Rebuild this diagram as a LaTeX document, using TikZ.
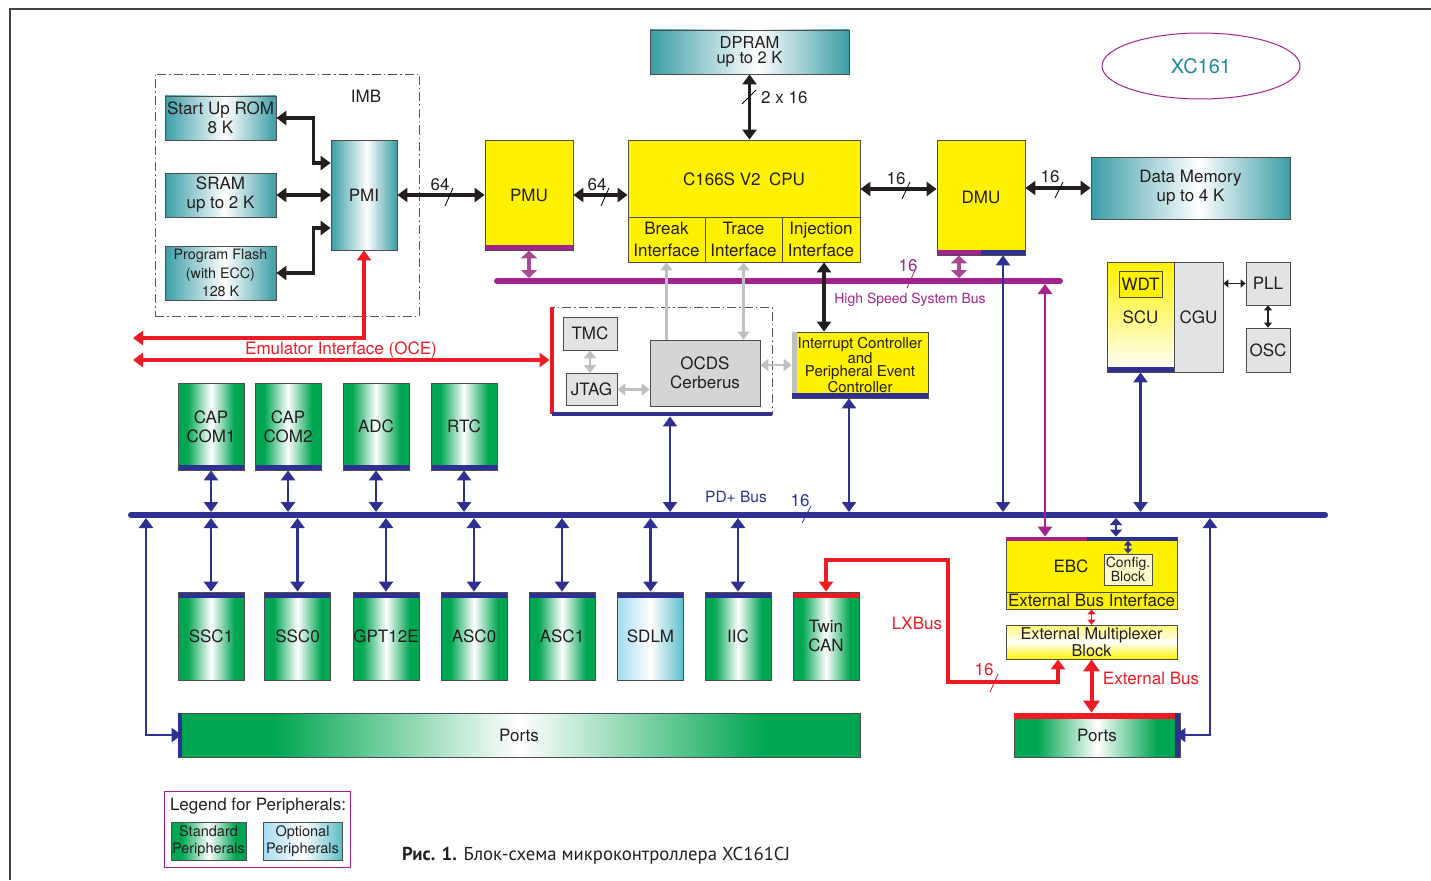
\documentclass[tikz,border=0pt]{standalone}
\usepackage{fontspec}
\setmainfont{TeX Gyre Heros}
\newfontfamily\capfont{PT Sans}
\usetikzlibrary{arrows.meta,positioning,shapes.geometric}

\definecolor{inkBlack}{RGB}{35,31,32}
\definecolor{memTeal}{RGB}{58,157,166}
\definecolor{cpuYellow}{RGB}{255,242,0}
\definecolor{perGreen}{RGB}{0,166,81}
\definecolor{busBlue}{RGB}{46,49,146}
\definecolor{hsMagenta}{RGB}{163,35,140}
\definecolor{hsLight}{RGB}{168,72,145}
\definecolor{oceRed}{RGB}{237,28,36}
\definecolor{boxGray}{RGB}{226,227,228}
\definecolor{dbgGray}{RGB}{212,213,214}
\definecolor{arrGray}{RGB}{190,192,194}
\definecolor{optBlue}{RGB}{165,218,242}
\definecolor{optTeal}{RGB}{90,190,200}
\definecolor{logoTeal}{RGB}{30,140,150}

\pgfdeclarehorizontalshading{perShade}{100bp}{color(0bp)=(perGreen); color(25bp)=(perGreen); color(32bp)=(perGreen); color(50bp)=(white); color(68bp)=(perGreen); color(75bp)=(perGreen); color(100bp)=(perGreen)}
\pgfdeclarehorizontalshading{optShade}{100bp}{color(0bp)=(optBlue); color(25bp)=(optBlue); color(50bp)=(white); color(75bp)=(optTeal); color(100bp)=(optTeal)}
\pgfdeclarehorizontalshading{memShade}{100bp}{color(0bp)=(memTeal); color(25bp)=(memTeal); color(52bp)=(white); color(75bp)=(memTeal); color(100bp)=(memTeal)}

\newcommand{\fmain}{\fontsize{17}{19}\selectfont}
\newcommand{\fdp}{\fontsize{16.5}{15}\selectfont}
\newcommand{\fint}{\fontsize{15}{13.3}\selectfont}
\newcommand{\fsmall}{\fontsize{14.3}{18.5}\selectfont}
\newcommand{\fhs}{\fontsize{14}{16}\selectfont}
\newcommand{\fcfg}{\fontsize{14}{13}\selectfont}
\newcommand{\femb}{\fontsize{16.3}{14.5}\selectfont}
\newcommand{\flogo}{\fontsize{20}{22}\selectfont}
\newcommand{\flegend}{\fontsize{14.5}{16.5}\selectfont}

\begin{document}
\begin{tikzpicture}[
    x=1pt, y=-1pt,
    every node/.style={font=\fmain, text=inkBlack, inner sep=0pt},
    box/.style={draw=inkBlack!80, line width=0.8pt, align=center},
    mem/.style={box, shade, shading=memShade},
    core/.style={box, fill=cpuYellow},
    perbox/.style={box, shade, shading=perShade, minimum width=66pt, minimum height=87pt},
    graybox/.style={box, fill=boxGray},
    botbar/.style={path picture={\fill[#1] (path picture bounding box.south west) rectangle ([yshift=5pt]path picture bounding box.south east);}},
    topbar/.style={path picture={\fill[#1] ([yshift=-6pt]path picture bounding box.north west) rectangle (path picture bounding box.north east);}},
    dashframe/.style={draw=inkBlack!75, line width=0.9pt, dash pattern=on 9pt off 3pt on 1.5pt off 3pt},
    cpubus/.style={<->, line width=3.6pt, inkBlack, >={Triangle[length=10pt,width=14pt]}},
    perbus/.style={<->, line width=2.8pt, busBlue, >={Triangle[length=10pt,width=14pt]}},
    hsbus/.style={<->, line width=4pt, hsLight, >={Triangle[length=8pt,width=16pt]}},
    hsthin/.style={<->, line width=2.8pt, hsMagenta, >={Triangle[length=10pt,width=14pt]}},
    ocebus/.style={<->, line width=3.4pt, oceRed, >={Triangle[length=10pt,width=14pt]}},
    dbgarr/.style={line width=2.4pt, arrGray, >={Triangle[length=8pt,width=12pt]}},
    tinyarr/.style={<->, line width=1.5pt, >={Triangle[length=5pt,width=8pt]}},
    slash/.style={line width=0.8pt}
]
  \useasboundingbox (0,0) rectangle (1431,880);
  \draw[inkBlack!85, line width=1.2pt] (10,880) -- (10,9) -- (1431,9);

  % memory side
  \node[dashframe, minimum width=264pt, minimum height=242pt] (imb) at (287,195) {};
  \node (imbLbl) at (366,96) {IMB};
  \node[mem, minimum width=111pt, minimum height=44pt] (rom) at (220.5,118) {Start Up ROM\\8 K};
  \node[mem, minimum width=111pt, minimum height=44pt] (sram) at (220.5,195) {SRAM\\up to 2 K};
  \node[mem, font=\fsmall, minimum width=111pt, minimum height=54pt] (flash) at (220.5,273) {Program Flash\\(with ECC)\\128 K};
  \node[mem, minimum width=66pt, minimum height=110pt] (pmi) at (364,195) {PMI};
  \node[core, botbar=hsMagenta, minimum width=88pt, minimum height=110pt] (pmu) at (529,195) {PMU};
  \node[core, minimum width=232pt, minimum height=122pt] (cpu) at (744,201) {};
  \node (cpuLbl) at (744,179) {C166S V2\enspace CPU};
  \node[core, minimum width=77pt, minimum height=45pt] (brk) at (666.5,239.5) {Break\\[3pt]Interface};
  \node[core, minimum width=77pt, minimum height=45pt] (trc) at (743.5,239.5) {Trace\\[3pt]Interface};
  \node[core, minimum width=78pt, minimum height=45pt] (inj) at (821,239.5) {Injection\\[3pt]Interface};
  \node[mem, font=\fdp, minimum width=199pt, minimum height=44pt] (dpram) at (749.5,52) {DPRAM\\up to 2 K};
  \node[core, minimum width=88pt, minimum height=115pt] (dmu) at (981,197.5) {DMU};
  \node[mem, minimum width=199pt, minimum height=62pt] (dmem) at (1190.5,188) {Data Memory\\up to 4 K};
  \node[ellipse, draw=hsMagenta, line width=1pt, minimum width=198pt, minimum height=66pt,
    text=logoTeal, font=\flogo] (logo) at (1201,66) {XC161};
  \fill[hsMagenta] (dmu.south west) rectangle ([yshift=5pt]dmu.south);
  \fill[busBlue] (dmu.south) rectangle ([yshift=5pt]dmu.south east);

  \coordinate (hsL) at (497,281);
  \coordinate (hsR) at (1060,281);
  \coordinate (hsTop) at (0,278);
  \coordinate (hsBot) at (0,284);
  \draw[hsMagenta, line width=6pt, line cap=round] (hsL) -- (hsR);

  % debug block
  \node[dashframe, minimum width=220pt, minimum height=107pt] (dbg) at (662,360.5) {};
  \draw[oceRed, line width=4pt] (dbg.north west) -- (dbg.south west);
  \draw[busBlue, line width=4pt] (dbg.south west) -- (dbg.south east);
  \node[graybox, minimum width=54pt, minimum height=33pt] (tmc) at (590,333.5) {TMC};
  \node[graybox, minimum width=51pt, minimum height=32pt] (jtag) at (591.5,389.5) {JTAG};
  \node[box, fill=dbgGray, minimum width=110pt, minimum height=66pt] (ocds) at (705,373) {OCDS\\Cerberus};
  \node[core, font=\fint, minimum width=136pt, minimum height=66pt] (intc) at (860,365) {Interrupt Controller\\and\\Peripheral Event\\Controller};
  \fill[arrGray] (intc.north west) rectangle ([xshift=5pt]intc.south west);
  \fill[busBlue] (intc.south west) rectangle ([yshift=5pt]intc.south east);

  % system control
  \node[box, top color=cpuYellow, bottom color=white, botbar=busBlue, minimum width=67pt, minimum height=110pt] (scu) at (1140.5,317) {SCU};
  \node[box, fill=cpuYellow, minimum width=43pt, minimum height=26pt] (wdt) at (1140.5,284) {WDT};
  \node[graybox, minimum width=49pt, minimum height=110pt] (cgu) at (1198.5,317) {CGU};
  \node[graybox, minimum width=44pt, minimum height=43pt] (pll) at (1268,283.5) {PLL};
  \node[graybox, minimum width=44pt, minimum height=44pt] (osc) at (1268,350) {OSC};

  % peripherals
  \node[perbox, botbar=busBlue] (cc1) at (211,426.5) {CAP\\COM1};
  \node[perbox, botbar=busBlue] (cc2) at (288,426.5) {CAP\\COM2};
  \node[perbox, botbar=busBlue] (adc) at (376,426.5) {ADC};
  \node[perbox, botbar=busBlue] (rtc) at (464,426.5) {RTC};
  \node[perbox, minimum height=88pt, topbar=busBlue] (ssc1) at (211,636) {SSC1};
  \node[perbox, minimum height=88pt, topbar=busBlue] (ssc0) at (297.5,636) {SSC0};
  \node[perbox, minimum height=88pt, topbar=busBlue] (gpt) at (386,636) {GPT12E};
  \node[perbox, minimum height=88pt, topbar=busBlue] (asc0) at (474,636) {ASC0};
  \node[perbox, minimum height=88pt, topbar=busBlue] (asc1) at (562,636) {ASC1};
  \node[perbox, shading=optShade, minimum height=88pt, topbar=busBlue] (sdlm) at (650.5,636) {SDLM};
  \node[perbox, minimum height=88pt, topbar=busBlue] (iic) at (738,636) {IIC};
  \node[perbox, minimum height=88pt, topbar=oceRed] (tcan) at (826,636) {Twin\\CAN};
  \node[box, shade, shading=perShade, minimum width=682pt, minimum height=44pt] (portsL) at (519,735) {Ports};
  \fill[busBlue] (portsL.north west) rectangle ([xshift=4pt]portsL.south west);

  % external bus
  \node[core, minimum width=171pt, minimum height=72pt] (ebc) at (1091.5,573) {};
  \fill[hsMagenta] (ebc.north west) rectangle ([xshift=-4.5pt,yshift=-4pt]ebc.north);
  \fill[busBlue] ([xshift=-4.5pt]ebc.north) rectangle ([yshift=-4pt]ebc.north east);
  \node (ebcLbl) at (1071,566) {EBC};
  \node[box, fill=cpuYellow!20, font=\fcfg, minimum width=48pt, minimum height=31pt] (cfg) at (1128,569.5) {Config.\\Block};
  \node[core, minimum width=171pt, minimum height=17pt] (ebi) at (1091.5,600.5) {External Bus Interface};
  \node[box, top color=cpuYellow!55, bottom color=cpuYellow, middle color=white, font=\femb,
    minimum width=171pt, minimum height=34pt] (emb) at (1091.5,642) {External Multiplexer\\Block};
  \node[box, shade, shading=perShade, minimum width=166pt, minimum height=44pt] (portsR) at (1097,735) {\raisebox{-4pt}{Ports}};
  \fill[oceRed] (portsR.north west) rectangle ([yshift=-6pt]portsR.north east);
  \fill[busBlue] (portsR.north east) rectangle ([xshift=-5pt]portsR.south east);

  % legend and caption
  \node[draw=hsMagenta, line width=1pt, minimum width=186pt, minimum height=76pt] (legend) at (257,829) {};
  \node (legendLbl) at (258,806) {Legend for Peripherals:};
  \node[box, shade, shading=perShade, font=\flegend, minimum width=75pt, minimum height=38pt] (legStd) at (208.5,841) {Standard\\Peripherals};
  \node[box, shade, shading=optShade, font=\flegend, minimum width=79pt, minimum height=38pt] (legOpt) at (302.5,841) {Optional\\Peripherals};
  \node[anchor=base west, font=\capfont\fontsize{18.7}{20}\selectfont] (caption) at (402,860) {\textbf{Рис. 1.} Блок-схема микроконтроллера XC161CJ};

  % memory connectors
  \draw[cpubus] (rom.east) -- ++(37,0) |- ([yshift=32pt]pmi.west);
  \draw[cpubus] (sram.east) -- (sram.east -| pmi.west);
  \draw[cpubus] (flash.east) -- ++(37,0) |- ([yshift=-33pt]pmi.west);
  \draw[cpubus] (pmi.east) -- (pmu.west);
  \draw[cpubus] (pmu.east) -- (cpu.west |- pmu.east);
  \draw[cpubus] (dpram.south) -- (dpram.south |- cpu.north);
  \draw[cpubus] ([yshift=12pt]cpu.east) -- ([yshift=12pt]cpu.east -| dmu.west);
  \draw[cpubus] (dmu.east |- dmem.west) -- (dmem.west);
  \draw[hsbus] (pmu.south) -- (pmu.south |- hsTop);
  \draw[hsbus] ([xshift=-22pt]dmu.south) -- ([xshift=-22pt]dmu.south |- hsTop);

  \node (w64a) at (440,185) {64};
  \draw[slash] (445,206) -- (453,188);
  \node (w64b) at (597,185) {64};
  \draw[slash] (601,206) -- (609,188);
  \node[anchor=west] (w2x16) at (761,98) {2 x 16};
  \draw[slash] (742,104) -- (756,90);
  \node (w16a) at (896,179) {16};
  \draw[slash] (902,199) -- (910,182);
  \node (w16b) at (1050,177) {16};
  \draw[slash] (1055,198) -- (1063,182);
  \node[text=hsMagenta] (w16hs) at (908,266) {16};
  \draw[slash, hsMagenta] (907,288) -- (915,270);
  \node[text=hsMagenta, font=\fhs] (hsLbl) at (910,300) {High Speed System Bus};

  % debug connectors
  \draw[dbgarr, ->] (brk.south |- ocds.north) -- (brk.south);
  \draw[dbgarr, <->] (trc.south) -- (trc.south |- ocds.north);
  \draw[cpubus] ([xshift=3pt]inj.south) -- ([xshift=3pt]inj.south |- intc.north);
  \draw[dbgarr, <->, line width=1.6pt] (tmc.south) -- (tmc.south |- jtag.north);
  \draw[dbgarr, <->] (jtag.east) -- (jtag.east -| ocds.west);
  \draw[dbgarr, <->] ([yshift=8pt]ocds.east) -- ([yshift=8pt]ocds.east -| intc.west);
  \draw[tinyarr, inkBlack] (pll.west) -- (pll.west -| cgu.east);
  \draw[tinyarr, inkBlack] (pll.south) -- (osc.north);

  \coordinate (emuA) at (133,338);
  \coordinate (emuB) at (133,360);
  \draw[ocebus] (pmi.south) |- (emuA);
  \draw[ocebus] (emuB) -- ([xshift=-2pt]emuB -| dbg.west);
  \node[text=oceRed] (emuLbl) at (341,350) {Emulator Interface (OCE)};

  % PD+ bus
  \coordinate (pdL) at (131,515);
  \coordinate (pdR) at (1325,515);
  \coordinate (pdTop) at (0,512);
  \coordinate (pdBot) at (0,518);
  \draw[busBlue, line width=6pt, line cap=round] (pdL) -- (pdR);
  \draw[perbus] (cc1.south) -- (cc1.south |- pdTop);
  \draw[perbus] (cc2.south) -- (cc2.south |- pdTop);
  \draw[perbus] (adc.south) -- (adc.south |- pdTop);
  \draw[perbus] (rtc.south) -- (rtc.south |- pdTop);
  \draw[perbus] (ssc1.north |- pdBot) -- (ssc1.north);
  \draw[perbus] (ssc0.north |- pdBot) -- (ssc0.north);
  \draw[perbus] (gpt.north |- pdBot) -- (gpt.north);
  \draw[perbus] (asc0.north |- pdBot) -- (asc0.north);
  \draw[perbus] (asc1.north |- pdBot) -- (asc1.north);
  \draw[perbus] (sdlm.north |- pdBot) -- (sdlm.north);
  \draw[perbus] (iic.north |- pdBot) -- (iic.north);
  \draw[perbus] ([xshift=8pt,yshift=-2pt]dbg.south) -- ([xshift=8pt]dbg.south |- pdTop);
  \draw[perbus] ([xshift=-11pt]intc.south) -- ([xshift=-11pt]intc.south |- pdTop);
  \draw[perbus] ([xshift=22pt]dmu.south) -- ([xshift=22pt]dmu.south |- pdTop);
  \draw[perbus] (scu.south) -- (scu.south |- pdTop);
  \draw[hsthin] ([xshift=-46.5pt]ebc.north |- hsBot) -- ([xshift=-46.5pt]ebc.north);
  \draw[perbus, >={Triangle[length=7pt,width=12pt]}] ([xshift=24.5pt]ebc.north |- pdBot) -- ([xshift=24.5pt]ebc.north);
  \draw[tinyarr, busBlue] (cfg.north) -- ([yshift=-4pt]cfg.north |- ebc.north);
  \node[text=busBlue, font=\fhs\fontsize{15.5}{17}\selectfont] (pdLbl) at (736,497) {PD+ Bus};
  \node[text=busBlue] (w16pd) at (800,501) {16};
  \draw[slash, busBlue] (802,523) -- (811,506);

  \coordinate (lpA) at (146,518);
  \coordinate (rpA) at (1210,518);
  \draw[perbus] (lpA) |- ([xshift=4pt]portsL.west);
  \draw[perbus] (rpA) |- ([xshift=-5pt]portsR.east);

  % LXBus and external bus
  \coordinate (lxA) at (948,682);
  \coordinate (lxB) at (948,560);
  \draw[ocebus] ([xshift=-33.5pt]emb.south) |- (lxA) -- (lxB) -| (tcan.north);
  \draw[tinyarr, oceRed] (ebi.south) -- (emb.north);
  \draw[ocebus, line width=4pt, >={Triangle[length=12pt,width=16pt]}] (emb.south) -- (emb.south |- portsR.north);
  \node[text=oceRed] (lxLbl) at (917,623) {LXBus};
  \node[text=oceRed] (w16lx) at (984,670) {16};
  \draw[slash, oceRed] (990,692) -- (998,674);
  \node[text=oceRed] (extLbl) at (1151,678) {External Bus};
\end{tikzpicture}
\end{document}
